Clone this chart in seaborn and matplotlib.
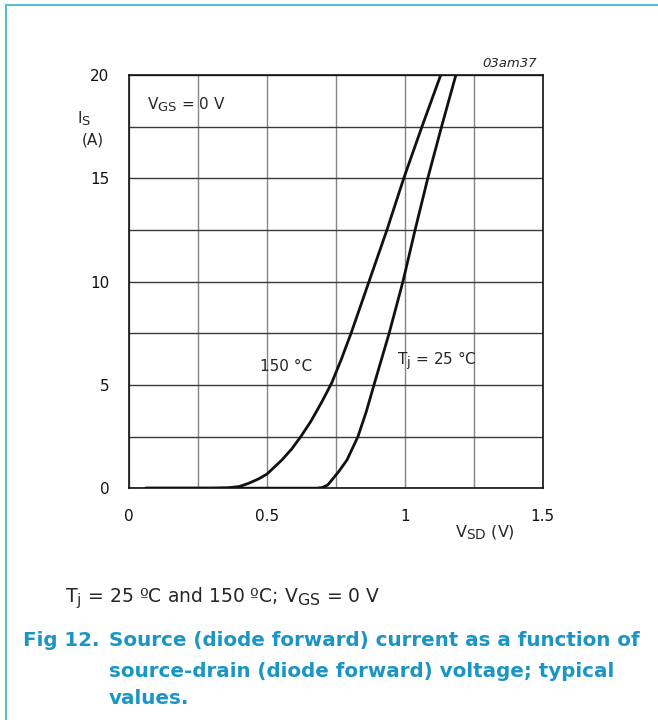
import matplotlib
matplotlib.use("Agg")
import matplotlib.pyplot as plt
from matplotlib.patches import Rectangle
import seaborn as sns
import pandas as pd

try:
    # datasheet subscripts are nearly full size
    import matplotlib._mathtext as _mt
    _mt.SHRINK_FACTOR = 0.85
except Exception:
    pass

# values (V in volts, I in amps)
vsd_150 = [0.06, 0.30, 0.36, 0.40, 0.435, 0.47, 0.50, 0.554, 0.59, 0.623, 0.66, 0.70, 0.735, 0.77, 0.805, 0.87, 0.935, 0.996, 1.062, 1.13]
is_150 = [0.0, 0.0, 0.02, 0.08, 0.24, 0.45, 0.68, 1.36, 1.9, 2.5, 3.25, 4.2, 5.1, 6.25, 7.5, 10.0, 12.5, 15.0, 17.5, 20.0]
vsd_25 = [0.06, 0.68, 0.70, 0.72, 0.735, 0.76, 0.79, 0.83, 0.86, 0.888, 0.943, 0.993, 1.037, 1.083, 1.133, 1.185]
is_25 = [0.0, 0.0, 0.03, 0.15, 0.39, 0.8, 1.36, 2.5, 3.7, 5.0, 7.5, 10.0, 12.5, 15.0, 17.5, 20.0]

x_ticks = [0, 0.5, 1, 1.5]
x_labels = ["0", "0.5", "1", "1.5"]
y_ticks = [0, 5, 10, 15, 20]

df = pd.concat([
    pd.DataFrame({"V": vsd_150, "I": is_150, "Tj": "150"}),
    pd.DataFrame({"V": vsd_25, "I": is_25, "Tj": "25"}),
])

sns.set_style("white")
plt.rcParams["font.family"] = ["DejaVu Sans"]
plt.rcParams["mathtext.default"] = "regular"

fig = plt.figure(figsize=(6.58, 7.2), dpi=100)
ax = fig.add_axes([0.196, 0.322, 0.629, 0.574])

sns.lineplot(data=df, x="V", y="I", units="Tj", estimator=None, sort=False,
             color="#111111", lw=2.0, ax=ax, legend=False)

ax.set_xlim(0, 1.5)
ax.set_ylim(0, 20)
ax.set_xticks(x_ticks)
ax.set_xticklabels(x_labels)
ax.set_yticks(y_ticks)
ax.set_xticks([0.25, 0.75, 1.25], minor=True)
ax.set_yticks([2.5, 7.5, 12.5, 17.5], minor=True)
ax.tick_params(which="both", length=0, labelsize=11, colors="#111111")
ax.tick_params(axis="x", pad=15)
ax.tick_params(axis="y", pad=14)
ax.grid(axis="x", which="both", color="#858585", lw=1)
ax.grid(axis="y", which="both", color="#3a3a3a", lw=1)
ax.set_axisbelow(True)
for s in ax.spines.values():
    s.set_color("#111111")
    s.set_linewidth(1.2)
ax.set_xlabel("")
ax.set_ylabel("")

# labels inside the chart
ax.text(0.065, 18.55, r"$V_{GS}$ = 0 V", fontsize=11, va="center")
ax.text(0.475, 5.9, "150 \u00b0C", fontsize=11, va="center")
ax.text(0.97, 6.15, r"$T_{j}$" + " = 25 \u00b0C", fontsize=11, va="center")
fig.text(0.117, 0.835, r"$I_{S}$", fontsize=11, va="center")
fig.text(0.124, 0.806, "(A)", fontsize=11, va="center")
fig.text(0.783, 0.260, r"$V_{SD}$ (V)", fontsize=11.5, va="center", ha="right")
fig.text(0.816, 0.912, "03am37", fontsize=9.5, style="italic", ha="right", va="center")

# caption
fig.text(0.099, 0.1694, r"$T_{j}$" + " = 25 \u00baC and 150 \u00baC; " + r"$V_{GS}$" + " = 0 V",
         fontsize=13.5, va="center")
blue = "#1b95c4"
fig.text(0.035, 0.1028, "Fig 12.", fontsize=14.3, weight="bold", color=blue, va="baseline")
fig.text(0.1655, 0.1028, "Source (diode forward) current as a function of",
         fontsize=14.3, weight="bold", color=blue, va="baseline")
fig.text(0.1655, 0.0597, "source-drain (diode forward) voltage; typical",
         fontsize=14.3, weight="bold", color=blue, va="baseline")
fig.text(0.1655, 0.0222, "values.", fontsize=14.3, weight="bold", color=blue, va="baseline")

# light blue frame
fig.patches.append(Rectangle((6 / 658, -0.1), 1.2, 1.1 - 5 / 720, transform=fig.transFigure,
                             fill=False, edgecolor="#5bbbd9", lw=1.5))

fig.savefig("out.png", dpi=100)
